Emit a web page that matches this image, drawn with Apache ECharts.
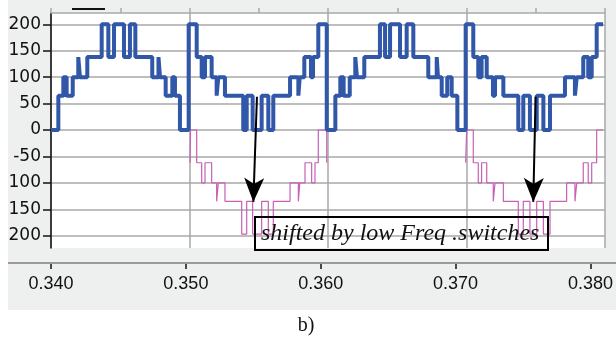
<!DOCTYPE html>
<html>
<head>
<meta charset="utf-8">
<script src="https://cdn.jsdelivr.net/npm/echarts@6/dist/echarts.min.js"></script>
<style>
  html, body { margin: 0; padding: 0; background: #fff; }
  #chart { width: 616px; height: 340px; }
</style>
</head>
<body>
<div id="chart"></div>
<script>
// time in ms (0.340 s .. 0.380 s), value of the step waveform
const blueT = [340.00, 340.53, 340.89, 341.13, 341.57, 341.97, 342.09, 342.62, 343.66, 344.14,
  344.55, 345.27, 345.70, 346.09, 347.31, 347.76, 347.87, 348.28, 348.76, 348.95,
  349.31, 349.94, 350.52, 350.88, 351.12, 351.60, 351.96, 352.08, 352.56, 353.88,
  354.13, 354.56, 355.21, 355.69, 356.05, 357.26, 357.86, 357.96, 358.29, 358.77,
  358.92, 359.30, 359.91,
  360.53, 360.89, 361.13, 361.57, 361.97, 362.09, 362.62, 363.75, 364.12, 364.48,
  365.20, 365.68, 366.16, 367.24, 367.85, 367.94, 368.21, 368.61, 368.93, 369.34,
  369.94, 370.49, 370.85, 371.09, 371.46, 371.91, 372.06, 372.66, 373.74, 374.10,
  374.58, 375.07, 375.55, 376.03, 377.11, 377.83, 377.96, 378.43, 378.79, 379.04,
  379.40, 379.86];
const blueV = [0, 65, 100, 65, 100, 138, 100, 138, 200, 138,
  200, 138, 200, 138, 100, 138, 100, 65, 100, 65,
  0, 200, 138, 100, 138, 100, 65, 100, 65, 0,
  65, 0, 65, 0, 65, 100, 65, 100, 138, 100,
  138, 200, 0,
  65, 100, 65, 100, 138, 100, 138, 200, 138, 200,
  138, 200, 138, 100, 138, 100, 65, 100, 65, 0,
  200, 138, 100, 138, 100, 65, 100, 65, 0, 65,
  0, 65, 0, 65, 100, 65, 100, 138, 100, 138,
  200, 200];

// pink trace, drawn only during the two negative half-cycles
const pink1T = [350.04, 350.07, 350.52, 350.88, 351.12, 351.60, 351.96, 352.08, 352.56, 353.77,
  354.13, 354.56, 355.21, 355.69, 356.05, 357.26, 357.86, 357.96, 358.34, 358.82,
  359.06, 359.30, 359.91];
const pink1V = [-62, 0, -62, -100, -62, -100, -135, -100, -135, -197,
  -135, -197, -135, -197, -135, -100, -135, -100, -62, -100,
  -62, 0, -62];
const pink2T = [369.94, 370.01, 370.49, 370.85, 371.09, 371.46, 371.93, 372.06, 372.66, 373.74,
  374.10, 374.58, 375.07, 375.55, 376.03, 377.23, 377.83, 377.96, 378.43, 378.79,
  379.04, 379.40, 379.86];
const pink2V = [-62, 0, -62, -100, -62, -100, -135, -100, -135, -197,
  -135, -197, -135, -197, -135, -100, -135, -100, -62, -100,
  -62, 0, 0];

const yTickValues = [200, 150, 100, 50, 0, -50, -100, -150, -200];
const yTickLabels = ['200', '150', '100', '50', '0', '-50', '100', '150', '200'];
const xTickValues = [340, 350, 360, 370, 380];
const xTickLabels = ['0.340', '0.350', '0.360', '0.370', '0.380'];

// annotation arrows (start on blue, tip on pink)
const arrowFrom = [[354.87, 63], [374.99, 63]];
const arrowTo = [[354.61, -136], [374.82, -136]];
const noteText = 'shifted by low Freq .switches';

const zip = (t, v) => t.map((x, i) => [x, v[i]]);

const chart = echarts.init(document.getElementById('chart'));
const gridGray = '#a9a9a9';

const option = {
  animation: false,
  backgroundColor: '#ffffff',
  graphic: [
    { type: 'rect', z: -10, shape: { x: 8, y: 0, width: 608, height: 310 }, style: { fill: '#eef0ef' } },
    { type: 'line', z: 5, shape: { x1: 8, y1: 263, x2: 616, y2: 263 }, style: { stroke: '#9a9a9a', lineWidth: 2 } },
    { type: 'line', z: 5, shape: { x1: 72, y1: 9, x2: 105, y2: 9 }, style: { stroke: '#111', lineWidth: 2 } },
    { type: 'rect', z: 20, shape: { x: 255, y: 217, width: 293, height: 33 }, style: { fill: null, stroke: '#000', lineWidth: 2 } },
    { type: 'text', z: 21, x: 261, y: 234,
      style: { text: noteText, font: 'italic 24px "Liberation Serif", serif', fill: '#111', verticalAlign: 'middle' } },
    { type: 'text', z: 21, x: 306, y: 326,
      style: { text: 'b)', font: '20px "Liberation Serif", serif', fill: '#111', align: 'center', verticalAlign: 'middle' } }
  ],
  grid: [
    { left: 51, top: 13, width: 554, height: 235, show: true, backgroundColor: '#ffffff', borderWidth: 0 },
    { left: 51, top: 24.3, width: 554, height: 211.4 },
    { left: 51, top: 262, width: 554, height: 1 }
  ],
  xAxis: [
    {
      gridIndex: 0, type: 'value', min: 340, max: 380, interval: 10, position: 'top',
      axisLine: { onZero: false, lineStyle: { color: gridGray, width: 1.5 } },
      axisTick: { length: 5, lineStyle: { color: gridGray, width: 1.5 } },
      minorTick: { show: true, splitNumber: 2, length: 5, lineStyle: { color: gridGray, width: 1.5 } },
      axisLabel: { show: false },
      splitLine: { show: true, lineStyle: { color: gridGray, width: 1.5 } }
    },
    { gridIndex: 1, type: 'value', min: 340, max: 380, show: false },
    {
      gridIndex: 2, type: 'value', min: 340, max: 380, interval: 10, position: 'bottom',
      axisLine: { show: false, onZero: false },
      axisTick: { length: 6, lineStyle: { color: '#111', width: 1.5 } },
      splitLine: { show: false },
      axisLabel: {
        margin: 12, color: '#111', fontSize: 18, fontFamily: '"Liberation Sans", Arial, sans-serif',
        formatter: v => xTickLabels[xTickValues.indexOf(v)] ?? ''
      }
    }
  ],
  yAxis: [
    {
      gridIndex: 0, type: 'value', min: 0, max: 1,
      axisLine: { show: true, onZero: false, lineStyle: { color: '#111', width: 1.5 } },
      axisTick: { show: false }, axisLabel: { show: false }, splitLine: { show: false }
    },
    {
      gridIndex: 1, type: 'value', min: -200, max: 200, interval: 50,
      axisLine: { show: false, onZero: false },
      axisTick: { show: true, length: 8, lineStyle: { color: '#111', width: 1.5 } },
      axisLabel: {
        margin: 10, color: '#111', fontSize: 17, fontFamily: '"DejaVu Sans", sans-serif',
        formatter: v => yTickLabels[yTickValues.indexOf(v)] ?? ''
      },
      splitLine: { show: true, lineStyle: { color: gridGray, width: 1.5 } }
    },
    { gridIndex: 2, type: 'value', show: false }
  ],
  series: [
    {
      name: 'pink1', type: 'line', xAxisIndex: 1, yAxisIndex: 1, step: 'end',
      showSymbol: false, clip: false, data: zip(pink1T, pink1V),
      lineStyle: { color: '#c760b6', width: 1.2 }
    },
    {
      name: 'pink2', type: 'line', xAxisIndex: 1, yAxisIndex: 1, step: 'end',
      showSymbol: false, clip: false, data: zip(pink2T, pink2V),
      lineStyle: { color: '#c760b6', width: 1.2 }
    },
    {
      name: 'blue', type: 'line', xAxisIndex: 1, yAxisIndex: 1, step: 'end',
      showSymbol: false, clip: false, data: zip(blueT, blueV),
      lineStyle: { color: '#3157a8', width: 4 },
      markLine: {
        silent: true, z: 10,
        symbol: ['none', 'arrow'], symbolSize: [15, 24],
        label: { show: false },
        lineStyle: { color: '#000', width: 2, type: 'solid' },
        data: arrowFrom.map((p, i) => [{ coord: p }, { coord: arrowTo[i] }])
      }
    }
  ]
};

chart.setOption(option);
</script>
</body>
</html>
